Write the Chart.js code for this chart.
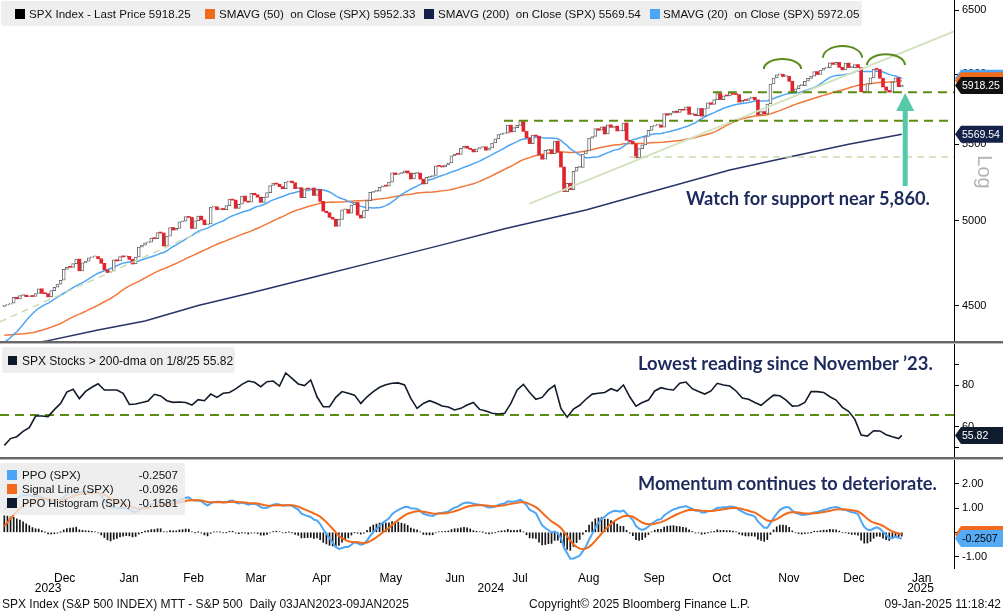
<!DOCTYPE html>
<html>
<head>
<meta charset="utf-8">
<script src="https://cdn.jsdelivr.net/npm/chart.js"></script>
<style>
  body { margin: 0; background: #fff; }
  #wrap { position: relative; width: 1003px; height: 612px; overflow: hidden; background: #fff;
          font-family: "Liberation Sans", Arial, sans-serif; color: #111; }
  canvas { position: absolute; left: 0; }
  .sep { position: absolute; left: 0; width: 1003px; height: 2px; background: #686868; border-bottom: 1px solid #bdbdbd; }
  .box { position: absolute; background: rgba(234,234,234,0.82); border-radius: 3px; }
  .sq { position: absolute; width: 10px; height: 10px; }
  .t { position: absolute; white-space: pre; font-size: 12px; line-height: 14px; }
  .lg { font-size: 11.6px; }
  .note { position: absolute; white-space: nowrap; font-family: Lato, sans-serif; font-weight: 700;
          color: #1f2a5c; line-height: 1; font-size: 18px; }
</style>
</head>
<body>
<div id="wrap">
  <canvas id="cPrice" width="1003" height="341" style="top:0"></canvas>
  <canvas id="cBreadth" width="1003" height="113" style="top:344px"></canvas>
  <canvas id="cPpo" width="1003" height="152" style="top:460px"></canvas>
  <div class="sep" style="top:341px"></div>
  <div class="sep" style="top:457px"></div>

  <!-- price panel legend -->
  <div class="box" style="left:1px;top:1px;width:861px;height:25px"></div>
  <div class="sq" style="left:15px;top:9px;background:#000"></div>
  <div class="t lg" style="left:29px;top:7px">SPX Index - Last Price 5918.25</div>
  <div class="sq" style="left:205px;top:9px;background:#f26a1b"></div>
  <div class="t lg" style="left:219px;top:7px">SMAVG (50)  on Close (SPX) 5952.33</div>
  <div class="sq" style="left:424px;top:9px;background:#13204a"></div>
  <div class="t lg" style="left:438px;top:7px">SMAVG (200)  on Close (SPX) 5569.54</div>
  <div class="sq" style="left:650px;top:9px;background:#4da6f5"></div>
  <div class="t lg" style="left:663px;top:7px">SMAVG (20)  on Close (SPX) 5972.05</div>

  <!-- breadth legend -->
  <div class="box" style="left:2px;top:347px;width:233px;height:26px"></div>
  <div class="sq" style="left:8px;top:356px;width:9px;height:9px;background:#0e1a2c"></div>
  <div class="t" style="left:22px;top:354px">SPX Stocks &gt; 200-dma on 1/8/25 55.82</div>

  <!-- PPO legend -->
  <div class="box" style="left:0;top:463px;width:185px;height:52px"></div>
  <div class="sq" style="left:7px;top:470px;background:#4da6f5"></div>
  <div class="t lg" style="left:22px;top:468px">PPO (SPX)</div>
  <div class="t lg" style="left:100px;top:468px;width:78px;text-align:right">-0.2507</div>
  <div class="sq" style="left:7px;top:484px;background:#f26a1b"></div>
  <div class="t lg" style="left:22px;top:482px">Signal Line (SPX)</div>
  <div class="t lg" style="left:100px;top:482px;width:78px;text-align:right">-0.0926</div>
  <div class="sq" style="left:7px;top:498px;background:#0e1a2c"></div>
  <div class="t lg" style="left:22px;top:496px;font-size:11px">PPO Histogram (SPX)</div>
  <div class="t lg" style="left:100px;top:496px;width:78px;text-align:right">-0.1581</div>

  <!-- call-outs -->
  <div class="note" data-w="244" data-x="686" data-b="205">Watch for support near 5,860.</div>
  <div class="note" data-w="295" data-x="638" data-b="370.5">Lowest reading since November ’23.</div>
  <div class="note" data-w="299" data-x="638" data-b="490.5">Momentum continues to deteriorate.</div>

  <div style="position:absolute;left:965px;top:161px;width:40px;height:22px;line-height:22px;text-align:center;
              font-size:20px;color:#b3b3b3;transform:rotate(90deg)">Log</div>

  <!-- footer -->
  <div class="t" style="left:2px;top:597px">SPX Index (S&amp;P 500 INDEX) MTT - S&amp;P 500  Daily 03JAN2023-09JAN2025</div>
  <div class="t" style="left:529px;top:597px">Copyright© 2025 Bloomberg Finance L.P.</div>
  <div class="t" style="right:2px;top:597px">09-Jan-2025 11:18:42</div>
</div>

<script>
// daily closes before the visible window (Aug 1 - Nov 14 2023), only used to warm up averages
const preCloses = [
  4577,4513,4502,4478,4518,4499,4468,4469,4464,4490,4437,4404,4370,4369,4400,4388,4436,4376,4406,4433,4497,4515,4508,
  4516,4497,4465,4451,4458,4487,4462,4467,4505,4450,4453,4444,4402,4330,4320,4337,4274,4275,4300,4288,
  4288,4229,4263,4258,4309,4336,4358,4377,4350,4328,4374,4373,4315,4278,4224,4217,4248,4186,4137,4117,4167,4194,
  4238,4318,4358,4366,4378,4383,4347,4415,4412,4496
];

// visible daily closes, Nov 15 2023 - Jan 8 2025 (one per trading day)
const closes = [
  4502,4508,4514,4547,4538,4556,4559,4550,4555,4551,4568,
  4595,4569,4567,4549,4585,4604,4622,4644,4707,4720,4719,4741,4768,4699,4746,4755,4775,4781,4783,4770,
  4743,4705,4689,4697,4764,4757,4783,4781,4784,4766,4739,4780,4840,4851,4865,4869,4894,4891,4928,4925,4846,
  4906,4959,4943,4954,4995,4998,5027,5022,4953,5001,5030,5006,4976,4982,5087,5089,5070,5078,5070,5096,
  5137,5131,5079,5105,5157,5124,5118,5175,5165,5150,5117,5149,5179,5225,5241,5234,5218,5204,5248,5254,
  5243,5205,5211,5147,5204,5202,5209,5161,5199,5123,5061,5051,5022,5011,4967,5010,5070,5072,5048,5100,5116,5036,
  5018,5064,5128,5181,5187,5188,5214,5223,5221,5247,5308,5297,5303,5308,5321,5307,5268,5305,5306,5267,5235,5278,
  5283,5291,5354,5352,5347,5361,5375,5421,5434,5432,5473,5487,5473,5465,5448,5469,5478,5483,5460,
  5475,5509,5537,5567,5572,5577,5633,5585,5615,5631,5667,5589,5545,5505,5564,5556,5427,5399,5459,5464,5436,5522,
  5446,5347,5186,5240,5199,5319,5344,5344,5434,5455,5543,5554,5608,5597,5621,5571,5635,5617,5626,5592,5592,5648,
  5528,5520,5503,5408,5471,5496,5554,5596,5626,5633,5634,5618,5714,5703,5718,5732,5722,5745,5738,5762,
  5709,5710,5700,5751,5696,5751,5792,5780,5815,5859,5815,5843,5841,5865,5853,5851,5797,5809,5808,5823,5832,5813,5705,
  5729,5712,5783,5929,5973,5996,6001,5984,5985,5949,5871,5894,5917,5917,5949,5970,5987,6021,5999,6032,
  6047,6050,6087,6075,6090,6053,6034,6085,6051,6051,6074,6051,5872,5867,5931,5974,6040,6037,5971,5907,5882,
  5869,5942,5975,5909,5918.25
];

// 200-day average (day index, value)
const sma200Day = [0, 14, 30, 45, 62, 80, 100, 120, 140, 160, 186, 200, 215, 232, 254, 270, 287];
const sma200Val = [4265, 4308, 4365, 4415, 4500, 4577, 4667, 4759, 4853, 4951, 5069, 5146, 5230, 5327, 5428, 5500, 5569.54];

// % of SPX members above their 200-dma, every 2nd trading day, last value on the final day
const breadth = [
  51.0,54.3,55.2,57.8,59.6,65.2,65.2,64.9,68.3,71.3,
  76.8,78.1,73.6,77.1,79.1,80.8,77.8,77.8,77.8,76.2,
  70.8,71.0,71.7,72.5,75.7,74.9,72.6,71.8,72.0,71.7,
  70.5,73.1,72.6,75.8,74.2,76.2,76.6,78.3,80.5,82.1,
  81.5,79.4,81.8,82.1,79.7,86.0,83.4,80.7,79.9,82.6,
  74.5,69.7,69.7,74.2,77.0,76.2,75.3,71.3,74.5,77.0,
  79.1,80.3,81.0,81.2,80.2,73.7,68.9,71.3,72.6,71.5,
  70.0,69.6,68.1,68.9,70.5,71.7,68.4,67.6,66.5,66.2,
  66.5,71.3,77.8,80.5,76.6,73.3,74.2,77.8,80.0,68.9,
  64.6,68.6,70.4,73.3,75.8,76.2,76.6,78.4,77.3,80.2,
  74.5,70.0,71.7,72.9,77.3,78.9,78.1,77.8,81.0,81.6,
  78.4,77.0,75.8,77.3,81.0,80.2,79.7,77.3,73.9,73.3,
  71.7,70.4,72.9,75.3,75.0,72.9,70.0,70.2,71.8,77.0,
  77.0,76.6,74.5,72.9,69.4,67.5,63.6,56.0,55.5,58.1,
  58.0,56.2,55.2,54.3,55.82
];
const breadthRef = 65.7;

const monthLabels = ["Dec", "Jan", "Feb", "Mar", "Apr", "May", "Jun", "Jul", "Aug", "Sep", "Oct", "Nov", "Dec", "Jan"];
const monthPos = [19.3, 39.9, 60.5, 80.4, 101.5, 123.6, 144.1, 164.9, 186.9, 207.8, 229.4, 250.9, 271.7, 293.4];
const yearLabels = ["2023", "2024", "2025"];
const yearPos = [14.0, 155.6, 293.0];
const priceTicks = [4500, 5000, 5500, 6000, 6500];
const breadthTicks = [90, 80, 60, 50];
const breadthLabelled = [80, 60];
const ppoTicks = [2, 1, 0, -1];

const lastSma20 = 5972.05, lastSma50 = 5952.33;
const lastPpo = -0.2507, lastSignal = -0.0926;

// drawn marks on the price panel, in (day index, price)
const supportLevels = [
  { price: 5868, from: 226.6, kind: "dark" },
  { price: 5664, from: 159.8, kind: "dark" },
  { price: 5414, from: 199.8, kind: "light" },
];
const trendLine = [[167.8, 5107], [303.7, 6330]];
const earlyTrend = [[-1.4, 4410], [62.6, 4932]];
const shoulders = [
  { from: 242.9, to: 254.8, base: 6040, peak: 6116 },
  { from: 261.8, to: 274.3, base: 6126, peak: 6215 },
  { from: 275.9, to: 288.0, base: 6071, peak: 6153 },
];
const supportArrow = { day: 288.1, from: 5222, to: 5863 };

const X_MIN = -1.375, X_MAX = 303.7, AXIS_W = 49;
const FONT = "Liberation Sans";
Chart.defaults.font.family = FONT;
Chart.defaults.color = "#000";

// ---- derived series
const all = preCloses.concat(closes);
const off = preCloses.length;

function sma(n) {
  return closes.map((_, i) => {
    let s = 0;
    for (let k = i + off - n + 1; k <= i + off; k++) s += all[k];
    return { x: i, y: s / n };
  });
}

function ema(arr, n) {
  const k = 2 / (n + 1);
  const out = [];
  let e = arr[0];
  arr.forEach((v, i) => { e = i === 0 ? v : v * k + e * (1 - k); out.push(e); });
  return out;
}

const e12 = ema(all, 12), e26 = ema(all, 26);
const ppoAll = all.map((_, i) => (e12[i] - e26[i]) / e26[i] * 100);
const sigAll = ema(ppoAll, 9);
const ppo = closes.map((_, i) => ({ x: i, y: ppoAll[i + off] }));
const signal = closes.map((_, i) => ({ x: i, y: sigAll[i + off] }));
const hist = closes.map((_, i) => ({ x: i, y: ppoAll[i + off] - sigAll[i + off] }));

const candles = closes.map((c, i) => ({ x: i, y: [i ? closes[i - 1] : preCloses[off - 1], c] }));
const isUp = (i) => candles[i].y[1] >= candles[i].y[0];

// ---- helpers
function rightAxis(ticks, min, max, fmt, type) {
  return {
    type: type || "linear",
    position: "right",
    min, max,
    afterFit: (s) => { s.width = AXIS_W; s.paddingTop = 0; s.paddingBottom = 0; },
    afterBuildTicks: (s) => { s.ticks = ticks.map((v) => ({ value: v })); },
    grid: { drawOnChartArea: false, drawTicks: true, tickLength: 5, color: "#000" },
    border: { display: true, color: "#000" },
    ticks: { padding: 3, autoSkip: false, font: { size: 11 }, color: "#000", callback: fmt },
  };
}

function hiddenX() {
  return { type: "linear", min: X_MIN, max: X_MAX, display: false, offset: false };
}

function drawTag(ctx, y, text, bg, fg) {
  const x0 = 955, x1 = 961, x2 = 1003, h = 8.5;
  ctx.beginPath();
  ctx.moveTo(x0, y); ctx.lineTo(x1, y - h); ctx.lineTo(x2, y - h);
  ctx.lineTo(x2, y + h); ctx.lineTo(x1, y + h); ctx.closePath();
  ctx.fillStyle = bg;
  ctx.fill();
  if (text) {
    ctx.fillStyle = fg;
    ctx.font = "10.5px " + FONT;
    ctx.textAlign = "left";
    ctx.textBaseline = "middle";
    ctx.fillText(text, 962, y + 0.5);
  }
}

const base = {
  responsive: false,
  animation: false,
  devicePixelRatio: 1,
  events: [],
  layout: { padding: 0 },
  plugins: { legend: { display: false }, tooltip: { enabled: false } },
};

// ---- price panel
const priceMarks = {
  id: "priceMarks",
  afterDatasetsDraw(chart) {
    const { ctx, chartArea: a, scales: { x, y } } = chart;
    ctx.save();
    ctx.beginPath();
    ctx.rect(a.left, a.top, a.right - a.left, a.bottom - a.top);
    ctx.clip();

    ctx.strokeStyle = "#d3e2c0";
    ctx.lineWidth = 2;
    ctx.beginPath();
    ctx.moveTo(x.getPixelForValue(trendLine[0][0]), y.getPixelForValue(trendLine[0][1]));
    ctx.lineTo(x.getPixelForValue(trendLine[1][0]), y.getPixelForValue(trendLine[1][1]));
    ctx.stroke();

    ctx.setLineDash([7, 5]);
    ctx.lineWidth = 1.5;
    ctx.strokeStyle = "#cadcb4";
    ctx.beginPath();
    ctx.moveTo(x.getPixelForValue(earlyTrend[0][0]), y.getPixelForValue(earlyTrend[0][1]));
    ctx.lineTo(x.getPixelForValue(earlyTrend[1][0]), y.getPixelForValue(earlyTrend[1][1]));
    ctx.stroke();

    supportLevels.forEach((lv) => {
      const py = y.getPixelForValue(lv.price);
      ctx.strokeStyle = lv.kind === "dark" ? "#5b8c12" : "#c8dcb0";
      ctx.lineWidth = lv.kind === "dark" ? 2 : 1.5;
      ctx.setLineDash(lv.kind === "dark" ? [9, 6] : [7, 5]);
      ctx.beginPath();
      ctx.moveTo(x.getPixelForValue(lv.from), py);
      ctx.lineTo(a.right, py);
      ctx.stroke();
    });
    ctx.setLineDash([]);

    ctx.strokeStyle = "#5a8c1c";
    ctx.lineWidth = 2;
    shoulders.forEach((s) => {
      const x1 = x.getPixelForValue(s.from), x2 = x.getPixelForValue(s.to);
      const by = y.getPixelForValue(s.base), py = y.getPixelForValue(s.peak);
      ctx.beginPath();
      ctx.ellipse((x1 + x2) / 2, by, (x2 - x1) / 2, by - py, 0, Math.PI, 2 * Math.PI);
      ctx.stroke();
    });

    const ax = x.getPixelForValue(supportArrow.day);
    const tip = y.getPixelForValue(supportArrow.to);
    const tail = y.getPixelForValue(supportArrow.from);
    ctx.fillStyle = "#55c9a8";
    ctx.fillRect(ax - 2.5, tip + 16, 5, tail - tip - 16);
    ctx.beginPath();
    ctx.moveTo(ax, tip); ctx.lineTo(ax + 9, tip + 18); ctx.lineTo(ax - 9, tip + 18); ctx.closePath();
    ctx.fill();
    ctx.restore();
  },
  afterDraw(chart) {
    const { ctx, scales: { y } } = chart;
    drawTag(ctx, y.getPixelForValue(lastSma20), "", "#4da6f5");
    drawTag(ctx, y.getPixelForValue(lastSma50), "", "#f26a1b");
    drawTag(ctx, y.getPixelForValue(closes[closes.length - 1]), closes[closes.length - 1].toFixed(2), "#111", "#fff");
    drawTag(ctx, y.getPixelForValue(sma200Val[sma200Val.length - 1]), sma200Val[sma200Val.length - 1].toFixed(2), "#14224a", "#fff");
  },
};

const lineStyle = (color, w) => ({ type: "line", borderColor: color, borderWidth: w, pointRadius: 0, tension: 0, fill: false });

new Chart(document.getElementById("cPrice"), {
  type: "bar",
  data: {
    datasets: [
      {
        type: "bar",
        data: candles,
        barThickness: 3,
        minBarLength: 1,
        borderSkipped: false,
        borderWidth: (c) => (isUp(c.dataIndex) ? 1 : 0),
        borderColor: "#6a6a6a",
        backgroundColor: (c) => (isUp(c.dataIndex) ? "#ffffff" : "#e2242c"),
      },
      Object.assign(lineStyle("#4da6f5", 1.5), { data: sma(20) }),
      Object.assign(lineStyle("#f2783a", 1.5), { data: sma(50) }),
      Object.assign(lineStyle("#283467", 1.5), { data: sma200Day.map((d, i) => ({ x: d, y: sma200Val[i] })) }),
    ],
  },
  options: Object.assign({}, base, {
    scales: {
      x: hiddenX(),
      y: rightAxis(priceTicks, 4306, 6582, (v) => String(v), "logarithmic"),
    },
  }),
  plugins: [priceMarks],
});

// ---- breadth panel
new Chart(document.getElementById("cBreadth"), {
  type: "line",
  data: {
    datasets: [
      Object.assign(lineStyle("#121b2c", 1.6), { data: breadth.map((v, i) => ({ x: Math.min(i * 2, closes.length - 1), y: v })) }),
      Object.assign(lineStyle("#5b8c12", 2), { borderDash: [9, 6], data: [{ x: X_MIN, y: breadthRef }, { x: X_MAX, y: breadthRef }] }),
    ],
  },
  options: Object.assign({}, base, {
    scales: {
      x: hiddenX(),
      y: rightAxis(breadthTicks, 45.4, 100, (v) => (breadthLabelled.includes(v) ? String(v) : "")),
    },
  }),
  plugins: [{
    id: "breadthTag",
    afterDraw(chart) {
      const v = breadth[breadth.length - 1];
      drawTag(chart.ctx, chart.scales.y.getPixelForValue(v), v.toFixed(2), "#0f1c2e", "#fff");
    },
  }],
});

// ---- PPO panel
new Chart(document.getElementById("cPpo"), {
  type: "bar",
  data: {
    datasets: [
      Object.assign(lineStyle("#f26a1b", 2), { data: signal }),
      Object.assign(lineStyle("#4da6f5", 2), { data: ppo }),
      { type: "bar", data: hist, barThickness: 1, backgroundColor: "#141414", borderWidth: 0 },
    ],
  },
  options: Object.assign({}, base, {
    scales: {
      x: {
        type: "linear", min: X_MIN, max: X_MAX, position: "bottom", offset: false,
        afterFit: (s) => { s.height = 44; s.paddingLeft = 0; s.paddingRight = 0; },
        afterBuildTicks: (s) => { s.ticks = monthPos.map((v) => ({ value: v })); },
        grid: { display: false, drawTicks: false },
        border: { display: false },
        ticks: { autoSkip: false, maxRotation: 0, padding: 3, font: { size: 12 }, color: "#000",
                 callback: (v, i) => monthLabels[i] },
      },
      y: rightAxis(ppoTicks, -1.475, 2.99, (v) => (v === 0 ? "" : v.toFixed(2))),
    },
  }),
  plugins: [{
    id: "ppoExtras",
    afterDraw(chart) {
      const { ctx, scales: { x, y } } = chart;
      drawTag(ctx, y.getPixelForValue(lastSignal), "", "#f26a1b");
      drawTag(ctx, y.getPixelForValue(lastPpo), lastPpo.toFixed(4), "#55aaf5", "#000");
      ctx.save();
      ctx.font = "12px " + FONT;
      ctx.fillStyle = "#000";
      ctx.textAlign = "center";
      ctx.textBaseline = "middle";
      yearLabels.forEach((t, i) => ctx.fillText(t, x.getPixelForValue(yearPos[i]), 129));
      ctx.restore();
    },
  }],
});

// fit the call-out text to the width it takes in the reference
document.querySelectorAll(".note").forEach((el) => {
  const w = el.getBoundingClientRect().width;
  const fs = 18 * (+el.dataset.w) / w;
  el.style.fontSize = fs.toFixed(2) + "px";
  el.style.left = el.dataset.x + "px";
  el.style.top = (+el.dataset.b - 0.887 * fs).toFixed(1) + "px";
});
</script>
</body>
</html>
